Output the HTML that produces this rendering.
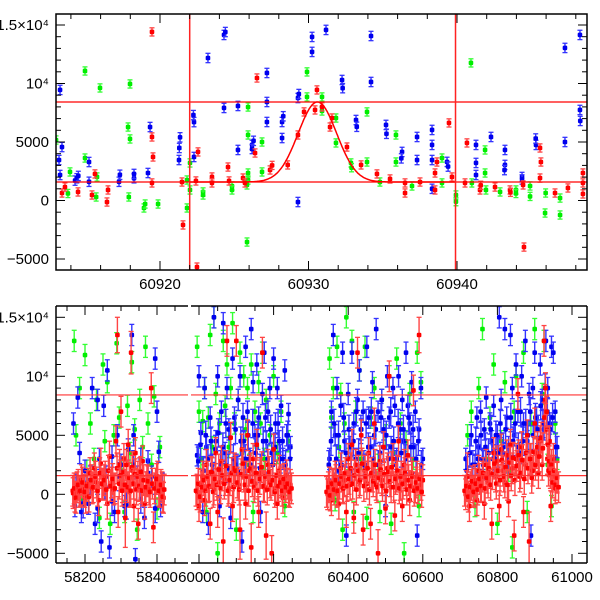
<!DOCTYPE html>
<html><head><meta charset="utf-8"><style>
html,body{margin:0;padding:0;background:#fff;}
svg{display:block;font-family:"Liberation Sans",sans-serif;}
</style></head><body>
<svg id="chart" width="600" height="600" viewBox="0 0 600 600" xmlns="http://www.w3.org/2000/svg"></svg>
<script>
// ---------- DATA: top panel (zoom on event) ----------
const topRed = [[60913.4,640],[60913.6,1150],[60914.48,730],[60915.42,470],[60916.43,-130],[60916.5,900],[60915.62,2270],[60919.46,14410],[60919.46,5430],[60919.53,3720],[60919.46,1500],[60921.55,-2090],[60922.49,-5690],[60921.48,1580],[60922.42,1670],[60922.56,4150],[60923.5,2010],[60924.58,2860],[60923.5,1500],[60924.65,1670],[60925.59,1920],[60925.72,1500],[60926.53,10470],[60926.4,4060],[60927.41,2610],[60927.55,3000],[60928.6,3040],[60929.29,5600],[60929.7,7570],[60930.57,9450],[60930.44,7740],[60930.91,8000],[60931.58,7050],[60931.45,6280],[60932.59,4570],[60933.54,3040],[60934.61,2270],[60935.49,1840],[60936.5,1500],[60936.5,640],[60937.51,1580],[60938.52,900],[60938.65,3290],[60938.52,2350],[60939.46,6630],[60939.66,2010],[60940.54,1500],[60940.67,4920],[60941.55,900],[60941.6,1300],[60942.56,1150],[60943.57,900],[60943.6,700],[60944.51,-3980],[60944.45,1330],[60945.59,4490],[60945.65,3290],[60945.59,1920],[60946.6,640],[60947.47,1070],[60948.48,2350],[60948.48,1500],[60948.48,560]];
const topBlue = [[60913.27,9450],[60913.4,4570],[60913.2,3460],[60913.27,2180],[60914.28,1700],[60914.4,1900],[60914.5,2100],[60915.22,3290],[60915.22,1600],[60917.24,1600],[60917.3,2200],[60918.25,1900],[60918.25,2270],[60919.19,2350],[60919.33,6280],[60921.28,3460],[60921.3,4490],[60921.35,5400],[60922.29,6700],[60922.25,7300],[60922.29,3720],[60923.23,12180],[60924.31,14150],[60924.4,14400],[60924.31,7910],[60925.25,8080],[60925.25,4320],[60926.2,4750],[60926.3,5100],[60926.2,4400],[60927.2,10900],[60927.2,8420],[60927.2,6710],[60928.22,6710],[60928.3,7200],[60928.22,5340],[60929.29,8760],[60929.35,9100],[60929.29,-130],[60930.24,13980],[60930.24,12700],[60931.18,14580],[60932.26,10300],[60932.3,9600],[60933.2,6880],[60933.25,6300],[60934.21,14060],[60934.21,10130],[60935.22,6460],[60935.25,5700],[60936.3,4150],[60936.25,3600],[60937.31,5430],[60937.31,3460],[60938.32,6030],[60938.32,4750],[60938.32,3460],[60938.32,1000],[60939.33,3300],[60939.4,2900],[60941.28,4750],[60941.28,3210],[60941.28,2180],[60942.29,5430],[60943.23,4320],[60943.23,3040],[60943.2,2600],[60944.38,2010],[60944.38,1800],[60945.32,4750],[60945.3,5300],[60947.27,13040],[60947.27,5000],[60948.28,14150],[60948.28,7740],[60948.3,6800]];
const topGreen = [[60913.0,5170],[60913.94,2440],[60913.8,600],[60914.95,11070],[60914.95,3630],[60915.76,2010],[60915.7,300],[60915.96,9620],[60917.85,6280],[60917.98,5260],[60917.98,9960],[60917.9,300],[60918.92,-640],[60919.0,-300],[60919.87,-300],[60921.82,1750],[60922.02,900],[60921.82,-640],[60922.02,3210],[60922.9,730],[60922.9,470],[60924.85,1240],[60924.85,900],[60925.86,-3550],[60925.93,7990],[60925.93,5600],[60925.93,2350],[60925.93,1750],[60925.86,1330],[60926.87,5000],[60926.87,2440],[60929.9,10990],[60929.9,8850],[60930.91,8850],[60930.91,7650],[60931.85,7050],[60931.85,4920],[60932.86,3210],[60932.9,2800],[60933.94,7570],[60933.94,3290],[60934.81,1580],[60935.89,5600],[60935.89,3290],[60936.97,1240],[60938.99,3630],[60938.99,1500],[60939.93,470],[60939.93,-100],[60940.94,11760],[60941.0,1500],[60941.89,2350],[60941.95,900],[60941.89,4320],[60942.9,730],[60943.97,900],[60943.97,600],[60944.92,1240],[60944.92,350],[60945.93,-1070],[60945.97,640],[60946.94,210],[60946.94,-1240]];
const curveBase = [1580];
const curvePeak = [6840, 60930.6, 1.3]; // amplitude, centre, width
const hLines = [8420, 1580];
const vLines = [60922.0, 60939.9];
const topXTicks = [60920, 60930, 60940];
const yTicks = [-5000, 0, 5000, 10000, 15000];
const yTickLabels = ["\u22125000", "0", "5000", "10\u2074", "1.5\u00d710\u2074"];

// ---------- DATA: bottom panel (full light curve) ----------
const botRed = [[58166,300],[58172,-200],[58178,600],[58184,200],[58190,1200],[58196,400],[58202,-300],[58208,900],[58214,1800],[58220,500],[58226,2200],[58232,1000],[58238,-500],[58244,2600],[58250,800],[58256,1500],[58262,-800],[58268,3200],[58274,1000],[58280,400],[58286,4500],[58290,13500,1500],[58292,-1500],[58296,2500],[58300,7000],[58304,600],[58308,3000],[58312,-2000,2500],[58316,1500],[58320,4200],[58324,200],[58328,12000,1800],[58332,2000],[58336,-1000],[58340,3500],[58344,800],[58348,-2500],[58352,1800],[58356,500],[58360,2800],[58366,-800],[58372,1200],[58378,400],[58384,9000],[58390,-2800],[58396,900],[58402,1500],[58408,200],[58414,600],[58418,-300],
[59995,200,1500],[60000,-1000],[60005,800],[60010,1500],[60015,-500],[60020,2500],[60025,600],[60030,-2500],[60035,1800],[60040,400],[60045,3500],[60050,-1500],[60055,1000],[60060,2800],[60065,-4000,2000],[60070,1200],[60075,13000],[60080,500],[60085,4800],[60090,-1000],[60095,2200],[60100,13000],[60105,800],[60110,-3000,2500],[60115,3800],[60120,1500],[60125,-800],[60130,5000],[60135,2000],[60140,-4500,2000],[60145,3000],[60150,900],[60155,4200],[60160,-1500],[60165,1800],[60170,12000],[60175,600],[60180,-3500,2000],[60185,2500],[60190,1000],[60195,-5000,1500],[60200,3800],[60205,500],[60210,-800],[60215,2000],[60220,1200],[60225,-300],[60230,900],[60235,1600],[60240,300],[60245,800],
[60345,0],[60350,1000],[60355,-500],[60360,800],[60365,1500],[60370,200],[60375,-800],[60380,2200],[60385,600],[60390,1200],[60395,-1500],[60400,3000],[60405,800],[60410,4200],[60415,-2000],[60420,2500],[60425,12000],[60430,1000],[60435,5000],[60440,-3000],[60445,2000],[60450,900],[60455,3500],[60460,-2500],[60465,1500],[60470,6000],[60475,800],[60480,-5000,2000],[60485,2800],[60490,1200],[60495,4000],[60500,-1200],[60505,2200],[60510,10000],[60515,600],[60520,3000],[60525,-1800],[60530,1500],[60535,4500],[60540,800],[60545,-1000],[60550,2500],[60555,1200],[60560,3300],[60565,-500],[60570,1800],[60575,8800],[60580,600],[60585,1500],[60590,13500,1500],[60595,800],[60600,1200],
[60715,0],[60720,1500,2000],[60725,-1000],[60730,800],[60735,300],[60740,1200],[60745,-500],[60750,2000],[60755,600],[60760,1500],[60765,-800],[60770,2500],[60775,1000],[60780,1800],[60785,-2500],[60790,3500],[60795,1500],[60800,2800],[60805,-1000],[60810,3800],[60815,2000],[60820,1000],[60825,3300],[60830,-600],[60835,4200],[60840,2200],[60845,-3500],[60850,3000],[60855,8500],[60860,1500],[60865,4000],[60870,-1500],[60875,2500],[60880,5000],[60885,-4000,2500],[60890,3000],[60895,2000],[60900,6000],[60905,3500],[60910,1800],[60915,4500],[60920,2500],[60925,13000],[60928,8000],[60931,5500],[60934,3000],[60937,2000],[60940,4500],[60943,-1000],[60946,1500],[60950,3000],[60955,500],[60960,1500]];
// dense quiescent red measurements near zero
const botRedCore = [[58167,100],[58170,500],[58175,-300],[58181,800],[58187,300],[58193,1000],[58199,200],[58205,700],[58211,-200],[58217,1200],[58223,600],[58229,1500],[58235,300],[58241,1800],[58247,900],[58253,1200],[58259,400],[58265,2000],[58271,700],[58277,1300],[58283,500],[58289,2200],[58295,900],[58299,1600],[58303,300],[58307,1900],[58311,800],[58315,2500],[58319,600],[58323,1400],[58327,300],[58331,2300],[58335,900],[58339,1700],[58343,400],[58347,1500],[58351,700],[58355,1900],[58359,300],[58363,1200],[58369,600],[58375,1100],[58381,200],[58387,900],[58393,500],[58399,1300],[58405,300],[58411,800],[58416,-200],[58420,400],
[59992,300],[59998,900],[60003,-200],[60008,600],[60013,1200],[60018,300],[60023,1500],[60028,700],[60033,1900],[60038,200],[60043,1300],[60048,800],[60053,2100],[60058,500],[60063,1600],[60068,900],[60073,2400],[60078,300],[60083,1200],[60088,1800],[60093,600],[60098,2000],[60103,1000],[60108,400],[60113,1700],[60118,2600],[60123,800],[60128,1500],[60133,300],[60138,2200],[60143,1100],[60148,600],[60153,1800],[60158,300],[60163,1300],[60168,2300],[60173,700],[60178,1500],[60183,400],[60188,1900],[60193,800],[60198,1200],[60203,200],[60208,1600],[60213,700],[60218,1000],[60223,300],[60228,1300],[60233,600],[60238,900],[60243,200],[60248,500],
[60342,200],[60347,600],[60352,-100],[60357,900],[60362,400],[60367,1200],[60372,300],[60377,900],[60382,1500],[60387,500],[60392,1800],[60397,700],[60402,1300],[60407,2200],[60412,900],[60417,1600],[60422,400],[60427,2000],[60432,1200],[60437,2600],[60442,700],[60447,1500],[60452,2200],[60457,400],[60462,1800],[60467,1100],[60472,2500],[60477,600],[60482,1400],[60487,2100],[60492,700],[60497,1700],[60502,300],[60507,1900],[60512,1100],[60517,2300],[60522,600],[60527,1300],[60532,2000],[60537,500],[60542,1500],[60547,900],[60552,1800],[60557,400],[60562,1200],[60567,700],[60572,1500],[60577,300],[60582,1000],[60587,500],[60592,1300],[60597,200],
[60712,300],[60717,700],[60722,-200],[60727,600],[60732,1100],[60737,200],[60742,900],[60747,400],[60752,1300],[60757,700],[60762,1800],[60767,500],[60772,1400],[60777,2200],[60782,800],[60787,1700],[60792,2600],[60797,900],[60802,2000],[60807,1200],[60812,2900],[60817,1500],[60822,2300],[60827,800],[60832,2700],[60837,1600],[60842,3100],[60847,1200],[60852,2400],[60857,3300],[60862,1800],[60867,2900],[60872,1300],[60877,3500],[60882,2200],[60887,3000],[60892,1400],[60897,3600],[60902,2500],[60907,4000],[60912,3200],[60917,4800],[60922,3900],[60926,6500],[60929,9000],[60932,7000],[60936,4200],[60939,2800],[60942,1800],[60945,2500],[60948,1000],[60952,2000],[60956,800],[60960,1400],[60964,600]];
const botBlue = [[58168,6000],[58172,-1000],[58180,8200],[58185,3500],[58190,-1500],[58200,2000],[58210,-800],[58220,9000],[58228,-2500],[58235,8000],[58240,3000],[58245,-4000],[58252,7500],[58258,1500],[58262,10500],[58268,-4500],[58275,3200],[58282,-1500],[58290,5000],[58300,2500],[58310,-1000],[58320,3800],[58330,13500],[58335,5000],[58340,-5500],[58345,1500],[58355,3000],[58365,-2000],[58375,2800],[58385,1500],[58395,11500],[58400,7000],[58405,3600],[58410,-1000],
[59995,3300],[60000,10000],[60005,5200],[60010,-1500],[60015,9000],[60020,4000],[60025,-2500],[60030,6500],[60035,2500],[60040,15000],[60045,4500],[60050,10000],[60055,-1000],[60060,7000],[60065,14500],[60070,3500],[60075,9000],[60080,5500],[60085,-2000],[60090,11500],[60095,6500],[60100,2500],[60105,8000],[60110,10000],[60115,-4000],[60120,4500],[60125,12500],[60130,7000],[60135,3000],[60140,14000],[60145,9500],[60150,5000],[60155,11000],[60160,6500],[60165,-1500],[60170,8500],[60175,12000],[60180,4500],[60185,7000],[60190,9000],[60195,3500],[60200,11500],[60205,6000],[60210,9000],[60215,4500],[60220,7500],[60225,3000],[60230,10500],[60235,5000],[60240,6800],[60245,4000],
[60350,3000],[60355,7000],[60360,13500],[60365,5000],[60370,9000],[60375,2000],[60380,7500],[60385,12000],[60390,4500],[60395,-3500],[60400,8500],[60405,4000],[60410,12000],[60415,6000],[60420,3000],[60425,8000],[60430,10500],[60435,5500],[60440,7000],[60445,2500],[60450,12500],[60455,6500],[60460,4000],[60465,9500],[60470,5000],[60475,14000],[60480,7000],[60485,3500],[60490,8000],[60495,5500],[60500,-1000],[60505,10000],[60510,6500],[60515,4000],[60520,9000],[60525,7500],[60530,3000],[60535,10000],[60540,5500],[60545,8000],[60550,4500],[60555,12000],[60560,7500],[60565,6000],[60570,9500],[60575,4000],[60580,7000],[60585,-3500],[60590,5500],[60595,9000],[60600,3000],
[60715,3000],[60720,1500],[60730,5000],[60740,2500],[60745,6500],[60750,4000],[60755,7000],[60760,3000],[60765,5500],[60770,8200],[60775,2000],[60780,6000],[60785,4500],[60790,7500],[60795,3000],[60800,5000],[60805,15000],[60810,8000],[60815,3500],[60820,14000],[60825,6500],[60830,4000],[60835,13500],[60840,9000],[60845,5000],[60850,11000],[60855,7000],[60860,3500],[60865,10000],[60870,6000],[60875,13000],[60880,4500],[60885,8500],[60890,-3500],[60895,9000],[60900,12000],[60905,6500],[60910,4000],[60915,11000],[60920,8000],[60925,5500],[60930,13000],[60935,9000],[60940,6000],[60945,12500],[60950,12000],[60955,7000],[60960,4000]];
// dense blue measurements in the lower range
const botBlueCore = [[58175,500],[58195,-800],[58215,1200],[58235,-1200],[58255,800],[58275,-600],[58295,1500],[58315,-900],[58335,2500],[58355,-400],[58375,1800],[58395,-1200],[58415,600],
[59998,2800],[60004,4200],[60012,2000],[60018,5000],[60024,3000],[60032,4500],[60038,1500],[60044,3800],[60052,5200],[60058,2500],[60064,4000],[60072,6000],[60078,2200],[60084,4800],[60092,3000],[60098,5500],[60104,2000],[60112,4500],[60118,6500],[60124,3000],[60132,5000],[60138,2500],[60144,6000],[60152,3500],[60158,5000],[60164,2200],[60172,4500],[60178,6500],[60184,3000],[60192,5500],[60198,2500],[60204,4000],[60212,6000],[60218,3000],[60224,4500],[60232,2500],[60238,5000],[60244,3000],
[60348,2500],[60354,4500],[60362,6000],[60368,3000],[60374,5000],[60382,2500],[60388,6500],[60394,3500],[60402,5500],[60408,2000],[60414,4500],[60422,7000],[60428,3500],[60434,5500],[60442,2500],[60448,6000],[60454,4000],[60462,7000],[60468,3000],[60474,5500],[60482,2500],[60488,6500],[60494,4000],[60502,5000],[60508,3000],[60514,7000],[60522,4500],[60528,2500],[60534,6000],[60542,3500],[60548,5500],[60554,3000],[60562,6500],[60568,4000],[60574,5500],[60582,3000],[60588,4500],[60596,2500],
[60718,2000],[60726,3500],[60734,2500],[60742,4500],[60748,3000],[60756,5000],[60762,2500],[60768,4000],[60776,3500],[60782,5500],[60788,3000],[60796,5000],[60802,3500],[60808,6000],[60816,4000],[60822,5500],[60828,3000],[60836,6500],[60842,4500],[60848,6000],[60856,4000],[60862,7000],[60868,4500],[60876,6000],[60882,5000],[60888,7000],[60896,5000],[60902,6500],[60908,5500],[60916,7500],[60922,6000],[60928,9000],[60934,7000],[60942,5500],[60948,6500],[60956,4000]];
const botGreen = [[58170,13000],[58175,5000],[58185,9000],[58190,-500],[58200,11800],[58205,2000],[58215,6000],[58225,3000],[58232,8000],[58240,-2000],[58250,11000],[58255,4500],[58262,9500],[58270,-2500],[58280,5000],[58288,12800],[58295,6500],[58302,2000],[58310,-1500],[58318,7500],[58325,3500],[58330,11200],[58338,5500],[58345,-3000],[58352,8000],[58360,4000],[58368,12500],[58375,6000],[58385,2500],[58392,8300],[58400,-1200],[58408,4000],
[59995,12500],[60000,7000],[60005,3000],[60010,6200],[60015,9000],[60020,-1500],[60025,6500],[60030,13500],[60035,4000],[60040,15000],[60045,8500],[60050,-5000],[60055,6000],[60060,2500],[60065,13000],[60070,7500],[60075,11000],[60080,4000],[60085,9000],[60090,14500],[60095,6000],[60100,-3000],[60105,8000],[60110,12000],[60115,3500],[60120,10000],[60125,5500],[60130,9000],[60135,2500],[60140,11000],[60145,-1500],[60150,7000],[60155,4000],[60160,9500],[60165,6000],[60170,12000],[60175,3000],[60180,8000],[60190,5000],[60200,10000],[60210,3500],[60220,7000],[60230,-1000],[60240,4500],
[60350,11500],[60355,6500],[60360,9000],[60365,-500],[60370,12500],[60375,4000],[60380,8500],[60385,-3000],[60390,6000],[60395,15000],[60400,3000],[60410,13000],[60415,-1500],[60420,7000],[60430,10500],[60435,3000],[60445,12500],[60450,-2000],[60460,6500],[60470,9000],[60480,2500],[60485,-1500],[60490,8000],[60500,5000],[60510,10000],[60515,-2500],[60520,3500],[60530,11500],[60540,6000],[60550,-5000],[60555,4500],[60565,8500],[60575,3000],[60585,12000],[60590,-1000],[60595,9500],
[60720,5000],[60730,7000],[60740,-1000],[60750,9000],[60760,14000],[60770,3000],[60780,6500],[60790,11000],[60800,-2500],[60810,4500],[60820,9500],[60830,2000],[60840,-4500],[60845,7000],[60850,10000],[60860,3500],[60870,12000],[60880,-1500],[60890,6000],[60900,14000],[60910,4000],[60920,8500],[60925,13000],[60935,2500],[60945,-1000],[60955,6000],[60960,3000]];
const botXTicksA = [58200, 58400];
const botXTicksB = [60000, 60200, 60400, 60600, 60800, 61000];

// ---------- LAYOUT ----------
const NS = "http://www.w3.org/2000/svg";
const svg = document.getElementById("chart");
const P1 = {l:56, r:587, t:14, b:270};
const P2 = {l:56, r:587, t:306, b:563};
const segA = {l:56, r:188}, segB = {l:191, r:587};
function xTop(d){ return 160 + (d - 60920) * 14.85; }
function yTop(v){ return 200.5 - v * 0.0117; }
function xBot(d){ return d < 59000 ? 85 + (d - 58200) * 0.36 : 199 + (d - 60000) * 0.373; }
function yBot(v){ return 494.3 - v * 0.0118; }
const COL = {red:"#ff0000", blue:"#0000ee", green:"#00ee00"};
const ERRCOL = {red:"#ff4444", blue:"#3333ff", green:"#33ff33"};

function mk(tag, attrs, parent){
  const e = document.createElementNS(NS, tag);
  for (const k in attrs) e.setAttribute(k, attrs[k]);
  (parent || svg).appendChild(e);
  return e;
}

const defs = mk("defs", {});
const c1 = mk("clipPath", {id:"clipTop"}, defs);
mk("rect", {x:P1.l, y:P1.t, width:P1.r-P1.l, height:P1.b-P1.t}, c1);
const c2 = mk("clipPath", {id:"clipA"}, defs);
mk("rect", {x:segA.l, y:P2.t, width:segA.r-segA.l, height:P2.b-P2.t}, c2);
const c3 = mk("clipPath", {id:"clipB"}, defs);
mk("rect", {x:segB.l, y:P2.t, width:segB.r-segB.l, height:P2.b-P2.t}, c3);

function drawSeries(data, color, g, xf, yf, defErr, name){
  data.forEach(function(p){
    const x = xf(p[0]), y = yf(p[1]);
    const e = (p[2] !== undefined ? p[2] : defErr);
    const y1 = yf(p[1] + e), y2 = yf(p[1] - e);
    const grp = mk("g", {}, g);
    
    
    mk("line", {x1:x, x2:x, y1:y1, y2:y2, stroke:ERRCOL[color], "stroke-width":1.4}, grp);
    mk("line", {x1:x-2.5, x2:x+2.5, y1:y1, y2:y1, stroke:ERRCOL[color], "stroke-width":1.3}, grp);
    mk("line", {x1:x-2.5, x2:x+2.5, y1:y2, y2:y2, stroke:ERRCOL[color], "stroke-width":1.3}, grp);
    mk("rect", {x:x-2.3, y:y-2.3, width:4.6, height:4.6, rx:1.2, fill:COL[color]}, grp);
  });
}

// ---------- TOP PANEL ----------
const gTop = mk("g", {"clip-path":"url(#clipTop)"});


drawSeries(topGreen, "green", gTop, xTop, yTop, 350, "top-green");
drawSeries(topBlue, "blue", gTop, xTop, yTop, 400, "top-blue");
drawSeries(topRed, "red", gTop, xTop, yTop, 350, "top-red");
hLines.forEach(function(v){
  const l = mk("line", {x1:P1.l, x2:P1.r, y1:yTop(v), y2:yTop(v), stroke:"#ff0000", "stroke-width":1.2}, gTop);
  
  
});
vLines.forEach(function(d){
  const l = mk("line", {x1:xTop(d), x2:xTop(d), y1:P1.t, y2:P1.b, stroke:"#ff2222", "stroke-width":1.5}, gTop);
  
  
});
(function(){
  let pts = [];
  for (let d = vLines[0]; d <= vLines[1]; d += 0.05){
    const v = curveBase[0] + curvePeak[0] * Math.exp(-0.5 * Math.pow((d - curvePeak[1]) / curvePeak[2], 2));
    pts.push(xTop(d).toFixed(1) + "," + yTop(v).toFixed(1));
  }
  const c = mk("polyline", {points:pts.join(" "), fill:"none", stroke:"#ff0000", "stroke-width":1.5}, gTop);
  
  
})();

function yAxis(P, yf, name){
  for (let v = -6000; v <= 16000; v += 1000){
    const y = yf(v);
    if (y < P.t || y > P.b) continue;
    const len = (v % 5000 === 0) ? 9 : 5;
    mk("line", {x1:P.l, x2:P.l+len, y1:y, y2:y, stroke:"#000", "stroke-width":1});
    mk("line", {x1:P.r, x2:P.r-len, y1:y, y2:y, stroke:"#000", "stroke-width":1});
  }
  yTicks.forEach(function(v, i){
    const t = mk("text", {x:P.l-7, y:yf(v)+5, "text-anchor":"end", "font-size":"15", fill:"#000"});
    t.textContent = yTickLabels[i];
    
    
  });
}
function xTicks(xf, lo, hi, majors, P, name, minorStep){
  for (let d = lo; d <= hi; d += minorStep){
    const x = xf(d);
    if (x < P.l || x > P.r) continue;
    const len = majors.indexOf(d) >= 0 ? 9 : 5;
    mk("line", {x1:x, x2:x, y1:P.b, y2:P.b-len, stroke:"#000", "stroke-width":1});
    mk("line", {x1:x, x2:x, y1:P.t, y2:P.t+len, stroke:"#000", "stroke-width":1});
  }
  majors.forEach(function(d){
    const t = mk("text", {x:xf(d), y:P.b+19, "text-anchor":"middle", "font-size":"15", fill:"#000"});
    t.textContent = String(d);
    
    
  });
}
(function(){
  const r = mk("rect", {x:P1.l, y:P1.t, width:P1.r-P1.l, height:P1.b-P1.t, fill:"none", stroke:"#000", "stroke-width":1.5});
  
  
})();
yAxis(P1, yTop, "top-y-axis");
xTicks(xTop, 60914, 60948, topXTicks, P1, "top-x-axis", 2);

// ---------- BOTTOM PANEL ----------
const gA = mk("g", {"clip-path":"url(#clipA)"});


const gB = mk("g", {"clip-path":"url(#clipB)"});


const splitA = function(arr, early){ return arr.filter(function(p){ return early ? p[0] < 59000 : p[0] >= 59000; }); };
[[gA, true], [gB, false]].forEach(function(s){
  drawSeries(splitA(botGreen, s[1]), "green", s[0], xBot, yBot, 900, "bottom-green");
  drawSeries(splitA(botBlue, s[1]), "blue", s[0], xBot, yBot, 900, "bottom-blue");
  drawSeries(splitA(botBlueCore, s[1]), "blue", s[0], xBot, yBot, 1200, "bottom-blue");
  drawSeries(splitA(botRed, s[1]), "red", s[0], xBot, yBot, 1300, "bottom-red");
  drawSeries(splitA(botRedCore, s[1]), "red", s[0], xBot, yBot, 1300, "bottom-red");
  hLines.forEach(function(v){
    const l = mk("line", {x1:0, x2:600, y1:yBot(v), y2:yBot(v), stroke:"#ff3333", "stroke-width":1.2}, s[0]);
    
    
  });
});
// broken-axis frame: outer sides + top/bottom with a gap
(function(){
  const g = mk("g", {stroke:"#000", "stroke-width":1.5, fill:"none"});
  
  
  mk("line", {x1:P2.l, x2:P2.l, y1:P2.t, y2:P2.b}, g);
  mk("line", {x1:P2.r, x2:P2.r, y1:P2.t, y2:P2.b}, g);
  mk("line", {x1:P2.l, x2:segA.r, y1:P2.t, y2:P2.t}, g);
  mk("line", {x1:P2.l, x2:segA.r, y1:P2.b, y2:P2.b}, g);
  mk("line", {x1:segB.l, x2:P2.r, y1:P2.t, y2:P2.t}, g);
  mk("line", {x1:segB.l, x2:P2.r, y1:P2.b, y2:P2.b}, g);
})();
yAxis(P2, yBot, "bottom-y-axis");
xTicks(xBot, 58150, 58450, botXTicksA, {l:segA.l, r:segA.r, t:P2.t, b:P2.b}, "bottom-x-axis-left", 50);
xTicks(xBot, 60000, 61000, botXTicksB, {l:segB.l, r:segB.r, t:P2.t, b:P2.b}, "bottom-x-axis-right", 50);
</script>
</body></html>
